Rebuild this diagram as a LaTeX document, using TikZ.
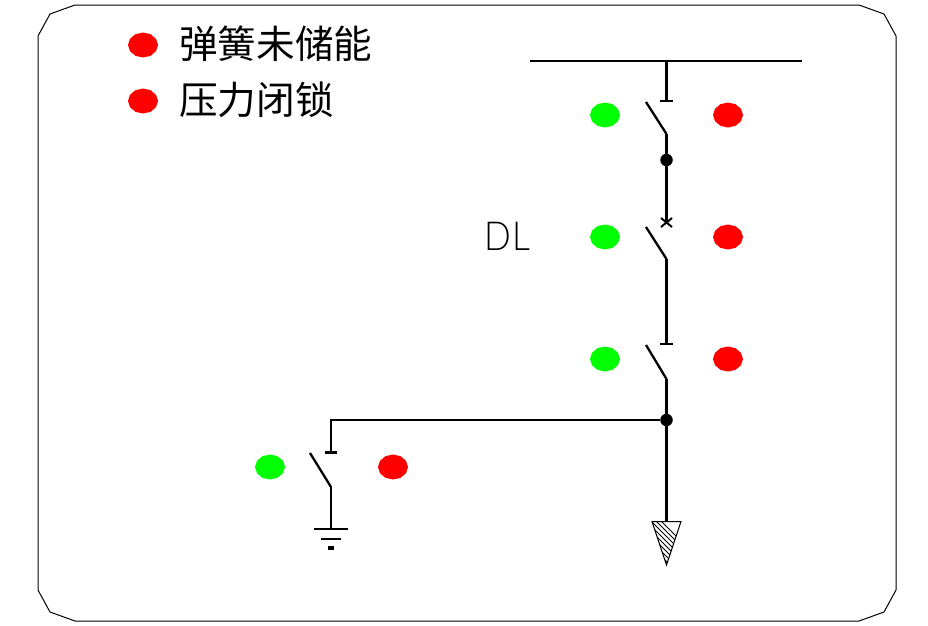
\documentclass[tikz,border=0pt]{standalone}
\usepackage{fontspec}
\usetikzlibrary{shapes.geometric}
\newfontfamily\cjk{Noto Sans CJK SC}
\newfontfamily\dlfont{Lato Light}
\tikzset{
  frameline/.style={draw=black,line width=1pt},
  wire/.style={draw=black,line width=3pt},
  thinwire/.style={draw=black,line width=2pt},
  bladeline/.style={draw=black,line width=2.3pt},
  tick/.style={draw=black,line width=2pt},
  lamp/.style={regular polygon,regular polygon sides=12,regular polygon rotate=15,minimum size=25pt,inner sep=0pt,xscale=1.2},
  greenled/.style={lamp,fill=green},
  redled/.style={lamp,fill=red},
  junction/.style={circle,fill=black,minimum size=12.5pt,inner sep=0pt},
  legendtext/.style={anchor=west,inner sep=0pt,font=\cjk\fontsize{38.6}{38.6}\selectfont}
}
\begin{document}
\begin{tikzpicture}[x=1pt,y=-1pt]
\useasboundingbox[fill=white] (0,0) rectangle (928,625);
\draw[frameline] (75,5)--(859,5)--(884,14)--(896,36)--(896,590)--(884,612)--(859,621)--(75,621)--(50,612)--(38,590)--(38,36)--(50,14)--cycle;
% legend
\node[redled] (l1) at (143,45) {};
\node[redled] (l2) at (143,101) {};
\node[legendtext] (t1) at (179,44) {\cjk 弹簧未储能};
\node[legendtext] (t2) at (179,100) {\cjk 压力闭锁};
% named points
\coordinate (busL) at (530,61);
\coordinate (busR) at (802,61);
\coordinate (busT) at (666.5,61);
\coordinate (s1top) at (666.5,100.5);
\coordinate (s1a) at (660,101);
\coordinate (s1b) at (673,101);
\coordinate (s1free) at (646,102);
\coordinate (s1hinge) at (666.5,134);
\node[junction] (j1) at (666.5,160) {};
\coordinate (s2top) at (666.5,222);
\coordinate (s2free) at (646,227);
\coordinate (s2hinge) at (666.5,259);
\coordinate (s3top) at (666.5,343.5);
\coordinate (s3a) at (660,344);
\coordinate (s3b) at (673,344);
\coordinate (s3free) at (646,345);
\coordinate (s3hinge) at (666.5,379);
\node[junction] (j2) at (666.5,420) {};
\coordinate (arrtop) at (666.5,521);
\coordinate (corner) at (331,420);
\coordinate (s4top) at (331,452);
\coordinate (s4a) at (325,452.5);
\coordinate (s4b) at (337,452.5);
\coordinate (s4free) at (310,453);
\coordinate (s4hinge) at (331,487);
\coordinate (gnd) at (331,528.5);
% wires
\draw[line width=2pt] (busL)--(busR);
\draw[wire] (busT)--(s1top);
\draw[tick] (s1a)--(s1b);
\draw[bladeline] (s1free)--(s1hinge);
\draw[wire] (s1hinge)--(j1)--(s2top);
\draw[line width=2pt] (661,218)--(672,227) (672,218)--(661,227);
\draw[bladeline] (s2free)--(s2hinge);
\draw[wire] (s2hinge)--(s3top);
\draw[tick] (s3a)--(s3b);
\draw[bladeline] (s3free)--(s3hinge);
\draw[wire] (s3hinge)--(j2)--(arrtop);
\draw[thinwire] (j2)--(corner)--(s4top);
\draw[line width=3pt] (s4a)--(s4b);
\draw[bladeline] (s4free)--(s4hinge);
\draw[thinwire] (s4hinge)--(gnd);
\draw[thinwire] (314,528.5)--(348,528.5);
\draw[thinwire] (321,538.5)--(341,538.5);
\draw[line width=3.2pt] (328,548)--(334,548);
% hatched tip
\begin{scope}
\clip (652,521.5)--(681,521.5)--(666.5,565)--cycle;
\foreach \k in {0,...,14}{
  \draw[line width=.8pt] (640,{500+\k*5})--(695,{555+\k*5});
}
\end{scope}
\draw[line width=1pt] (652,521.5)--(681,521.5)--(666.5,565)--cycle;
% lamps
\foreach \n/\y in {a/115,b/237,c/359}{
  \node[greenled] (g\n) at (605,\y) {};
  \node[redled] (r\n) at (728,\y) {};
}
\node[greenled] (gd) at (270,467) {};
\node[redled] (rd) at (393,467) {};
\node[inner sep=0pt,anchor=center,xscale=.88] (dl) at (507.5,236) {\dlfont\fontsize{40}{40}\selectfont D\kern1.5pt L};
\end{tikzpicture}
\end{document}
